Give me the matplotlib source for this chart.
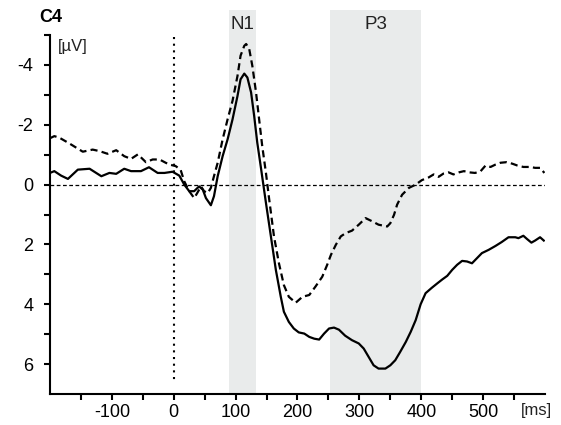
import matplotlib
matplotlib.use("Agg")
import matplotlib.pyplot as plt

plt.rcParams['font.family'] = ['Liberation Sans', 'DejaVu Sans']

# solid curve (time in ms, amplitude in uV)
t_solid = [-200, -193, -182, -171, -155, -136, -117, -104, -93, -80, -69, -53, -40, -26, -15, -2,
           9, 17, 25, 33, 41, 47, 52, 60, 65, 71, 79, 87, 95, 103, 108, 114, 119, 125, 130, 135,
           141, 149, 157, 165, 173, 178, 186, 194, 202, 211, 219, 227, 235, 243, 251, 259, 267,
           277, 288, 299, 307, 315, 323, 331, 342, 350, 358, 366, 375, 383, 391, 399, 407, 417,
           426, 434, 442, 450, 458, 466, 474, 482, 490, 498, 509, 520, 530, 541, 552, 557, 565,
           571, 578, 584, 592, 598]
v_solid = [-0.39, -0.45, -0.30, -0.19, -0.50, -0.53, -0.28, -0.39, -0.36, -0.53, -0.45, -0.45,
           -0.58, -0.39, -0.39, -0.43, -0.30, 0.0, 0.22, 0.22, 0.06, 0.17, 0.45, 0.69, 0.39, -0.28,
           -0.95, -1.51, -2.18, -2.96, -3.52, -3.71, -3.58, -3.08, -2.29, -1.40, -0.55, 0.61, 1.73,
           2.85, 3.75, 4.25, 4.59, 4.81, 4.94, 4.98, 5.09, 5.15, 5.18, 4.98, 4.81, 4.78, 4.85, 5.05,
           5.2, 5.31, 5.48, 5.76, 6.04, 6.15, 6.15, 6.04, 5.87, 5.59, 5.26, 4.92, 4.53, 4.0, 3.63,
           3.45, 3.3, 3.17, 3.05, 2.85, 2.68, 2.55, 2.57, 2.63, 2.46, 2.29, 2.18, 2.05, 1.92, 1.76,
           1.76, 1.79, 1.71, 1.82, 1.94, 1.87, 1.76, 1.87]

# dashed curve
t_dash = [-200, -193, -185, -169, -147, -131, -120, -107, -93, -80, -69, -58, -45, -34, -23, -13,
          -7, 3, 11, 17, 25, 33, 38, 44, 49, 55, 60, 65, 71, 79, 87, 95, 103, 108, 114, 117, 122,
          127, 133, 138, 143, 149, 154, 162, 170, 178, 186, 197, 208, 219, 229, 240, 248, 254, 262,
          270, 278, 288, 299, 310, 321, 331, 345, 350, 356, 361, 369, 380, 391, 401, 412, 420, 428,
          436, 444, 452, 461, 469, 477, 487, 496, 504, 512, 520, 528, 538, 547, 555, 565, 576, 584,
          592, 599]
v_dash = [-1.55, -1.62, -1.57, -1.38, -1.10, -1.17, -1.12, -1.03, -1.15, -0.95, -0.86, -1.01,
          -0.75, -0.84, -0.84, -0.73, -0.67, -0.62, -0.50, -0.11, 0.22, 0.45, 0.28, 0.06, 0.22,
          0.28, 0.11, -0.28, -0.73, -1.51, -2.18, -2.80, -3.63, -4.31, -4.64, -4.70, -4.53, -3.97,
          -3.08, -2.18, -1.29, -0.39, 0.45, 1.73, 2.63, 3.36, 3.75, 3.95, 3.75, 3.69, 3.41, 3.08,
          2.68, 2.35, 2.01, 1.73, 1.62, 1.54, 1.34, 1.12, 1.23, 1.34, 1.40, 1.29, 1.01, 0.67, 0.34,
          0.11, 0.0, -0.15, -0.24, -0.34, -0.26, -0.37, -0.41, -0.34, -0.41, -0.45, -0.41, -0.39,
          -0.45, -0.64, -0.59, -0.67, -0.73, -0.75, -0.70, -0.64, -0.59, -0.59, -0.56, -0.56, -0.39]

windows = [("N1", 90, 133), ("P3", 252, 400)]
xticks = [-150, -100, -50, 0, 50, 100, 150, 200, 250, 300, 350, 400, 450, 500, 550]
xticklabels = ["", "-100", "", "0", "", "100", "", "200", "", "300", "", "400", "", "500", ""]
yticks = [-5, -4, -3, -2, -1, 0, 1, 2, 3, 4, 5, 6]
yticklabels = ["", "-4", "", "-2", "", "0", "", "2", "", "4", "", "6"]

fig = plt.figure(figsize=(5.61, 4.25), dpi=100)
ax = fig.add_axes([0.0891, 0.0729, 0.8824, 0.8447])

for name, a, b in windows:
    ax.axvspan(a, b, ymin=0, ymax=1.07, color="#e9ebeb", lw=0, clip_on=False, zorder=0)
    ax.text((a + b) / 2, 1.03, name, transform=ax.get_xaxis_transform(),
            ha="center", va="center", fontsize=13.5, color="#222222")

ax.axhline(0, color="black", lw=0.9, ls=(0, (3, 2)), zorder=1)
ax.vlines(0, -4.93, 6.54, color="black", lw=1.5, ls=(0, (1, 2.2)), zorder=1)

ax.plot(t_solid, v_solid, color="black", lw=1.6, zorder=3)
ax.plot(t_dash, v_dash, color="black", lw=1.6, ls=(0, (3.2, 1.9)), zorder=3)

ax.set_xlim(-200, 600)
ax.set_ylim(7, -5)
ax.set_xticks(xticks)
ax.set_xticklabels(xticklabels)
ax.set_yticks(yticks)
ax.set_yticklabels(yticklabels)

for s in ["top", "right"]:
    ax.spines[s].set_visible(False)
for s in ["left", "bottom"]:
    ax.spines[s].set_linewidth(1.5)
ax.tick_params(axis="both", direction="out", length=4, width=1.5, labelsize=13, colors="black")
ax.tick_params(axis="y", pad=8)
ax.tick_params(axis="x", pad=3)

fig.text(51 / 561, 1 - 18 / 425, "C4", fontsize=13, fontweight="bold", ha="center", va="center")
fig.text(58 / 561, 1 - 46 / 425, "[\u00b5V]", fontsize=12, ha="left", va="center", color="#222222")
fig.text(521 / 561, 1 - 411 / 425, "[ms]", fontsize=12, ha="left", va="center", color="#222222")

fig.savefig("out.png", dpi=100)
